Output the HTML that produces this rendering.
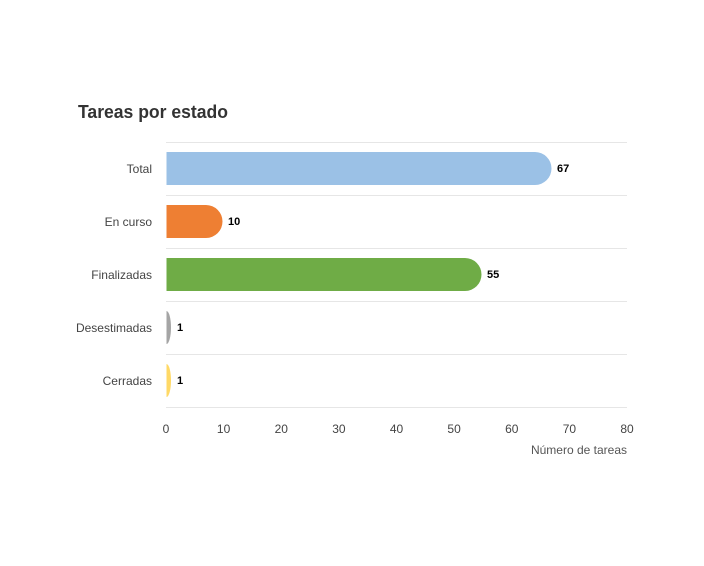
<!DOCTYPE html>
<html><head><meta charset="utf-8"><style>
body{margin:0;background:#fff;}
svg{display:block;font-family:"Liberation Sans",sans-serif;}
</style></head><body>
<svg width="704" height="566" viewBox="0 0 704 566">
<text x="78" y="118" font-size="18" font-weight="bold" fill="#333" textLength="150" lengthAdjust="spacingAndGlyphs">Tareas por estado</text>
<g stroke="#e6e6e6" stroke-width="1">
<line x1="166" x2="627" y1="142.5" y2="142.5"/>
<line x1="166" x2="627" y1="195.5" y2="195.5"/>
<line x1="166" x2="627" y1="248.5" y2="248.5"/>
<line x1="166" x2="627" y1="301.5" y2="301.5"/>
<line x1="166" x2="627" y1="354.5" y2="354.5"/>
<line x1="166" x2="627" y1="407.5" y2="407.5"/>
</g>
<g font-size="12" fill="#444" text-anchor="end">
<text x="152" y="173">Total</text>
<text x="152" y="226">En curso</text>
<text x="152" y="279">Finalizadas</text>
<text x="152" y="332">Desestimadas</text>
<text x="152" y="385">Cerradas</text>
</g>
<path d="M166.5 152 H535 A16.5 16.5 0 0 1 535 185 H166.5 Z" fill="#9bc1e6"/>
<path d="M166.5 205 H206 A16.5 16.5 0 0 1 206 238 H166.5 Z" fill="#ee7f33"/>
<path d="M166.5 258 H465 A16.5 16.5 0 0 1 465 291 H166.5 Z" fill="#6fac46"/>
<path d="M166.5 311 A4.5 16.5 0 0 1 166.5 344 Z" fill="#a5a5a5"/>
<path d="M166.5 364 A4.5 16.5 0 0 1 166.5 397 Z" fill="#ffd966"/>
<g font-size="11" font-weight="bold" fill="#000">
<text x="557" y="172">67</text>
<text x="228" y="225">10</text>
<text x="487" y="278">55</text>
<text x="177" y="331">1</text>
<text x="177" y="384">1</text>
</g>
<g font-size="12" fill="#444" text-anchor="middle">
<text x="166" y="433">0</text>
<text x="223.6" y="433">10</text>
<text x="281.3" y="433">20</text>
<text x="338.9" y="433">30</text>
<text x="396.5" y="433">40</text>
<text x="454.1" y="433">50</text>
<text x="511.8" y="433">60</text>
<text x="569.4" y="433">70</text>
<text x="627" y="433">80</text>
</g>
<text x="627" y="454" font-size="12" fill="#555" text-anchor="end">Número de tareas</text>
</svg>
</body></html>
